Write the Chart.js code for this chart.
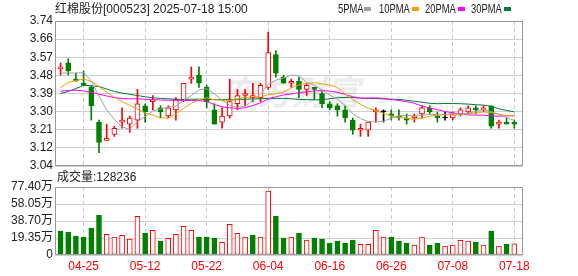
<!DOCTYPE html>
<html><head><meta charset="utf-8">
<script src="https://cdn.jsdelivr.net/npm/chart.js@4.4.1/dist/chart.umd.min.js"></script>
<style>
html,body{margin:0;padding:0;background:#fff;}
#wrap{position:relative;width:578px;height:276px;overflow:hidden;font-family:"Liberation Sans","Noto Sans CJK SC",sans-serif;color:#222;}
canvas{position:absolute;left:0;}
#c1{top:0;}
#c2{top:170px;}
.t{position:absolute;font-size:12px;line-height:14px;white-space:nowrap;}
.lg{position:absolute;top:2px;font-size:12px;line-height:14px;transform:scaleX(0.78);transform-origin:0 0;white-space:nowrap;}
.sq{position:absolute;top:7px;width:7px;height:4px;}
</style></head><body>
<div id="wrap">
<canvas id="c1" width="578" height="178"></canvas>
<canvas id="c2" width="578" height="106"></canvas>
<div class="t" style="left:55px;top:2px">红棉股份[000523] 2025-07-18 15:00</div>
<div class="t" id="voltxt" style="left:57px;top:170px"></div>
</div>
<script>
const dates = ['04-22','04-23','04-24','04-25','04-28','04-29','04-30','05-06','05-07','05-08','05-09','05-12','05-13','05-14','05-15','05-16','05-19','05-20','05-21','05-22','05-23','05-26','05-27','05-28','05-29','05-30','06-03','06-04','06-05','06-06','06-09','06-10','06-11','06-12','06-13','06-16','06-17','06-18','06-19','06-20','06-23','06-24','06-25','06-26','06-27','06-30','07-01','07-02','07-03','07-04','07-07','07-08','07-09','07-10','07-11','07-14','07-15','07-16','07-17','07-18'];
const xTickIdx = [3,11,19,27,35,43,51,59];

const open  = [3.51,3.54,3.46,3.44,3.42,3.25,3.16,3.19,3.25,3.24, 3.26,3.33,3.35,3.32,3.28,3.31,3.36,3.46,3.48,3.42, 3.31,3.25,3.28,3.34,3.38,3.37,3.37,3.42,3.58,3.47, 3.44,3.45,3.41,3.42,3.39,3.34,3.33,3.31,3.26,3.21, 3.21,3.30,3.30,3.29,3.28,3.27,3.27,3.29,3.32,3.28, 3.27,3.27,3.29,3.30,3.32,3.31,3.33,3.24,3.25,3.25];
const high  = [3.54,3.56,3.49,3.50,3.43,3.26,3.24,3.23,3.32,3.28, 3.41,3.34,3.38,3.33,3.33,3.37,3.44,3.52,3.52,3.43, 3.34,3.32,3.46,3.41,3.41,3.44,3.44,3.69,3.60,3.48, 3.46,3.47,3.44,3.42,3.40,3.35,3.34,3.33,3.27,3.24, 3.25,3.32,3.31,3.31,3.31,3.29,3.29,3.33,3.33,3.30, 3.30,3.30,3.32,3.33,3.33,3.33,3.33,3.26,3.27,3.26];
const low   = [3.48,3.48,3.45,3.43,3.26,3.10,3.16,3.18,3.22,3.20, 3.22,3.25,3.31,3.27,3.27,3.26,3.35,3.44,3.42,3.32, 3.24,3.22,3.27,3.31,3.33,3.35,3.35,3.41,3.47,3.44, 3.42,3.37,3.38,3.36,3.32,3.31,3.28,3.25,3.19,3.18, 3.18,3.25,3.25,3.26,3.26,3.24,3.25,3.27,3.29,3.25, 3.26,3.26,3.28,3.29,3.29,3.30,3.22,3.22,3.24,3.22];
const close = [3.52,3.50,3.45,3.43,3.33,3.15,3.17,3.22,3.26,3.27, 3.34,3.30,3.36,3.30,3.32,3.36,3.44,3.47,3.44,3.35, 3.24,3.28,3.35,3.38,3.39,3.38,3.43,3.59,3.49,3.44, 3.45,3.41,3.43,3.41,3.34,3.32,3.31,3.27,3.21,3.22, 3.25,3.31,3.30,3.28,3.27,3.26,3.28,3.32,3.30,3.27, 3.27,3.29,3.31,3.32,3.31,3.32,3.23,3.25,3.24,3.24];

const ma5  = [3.490,3.490,3.490,3.492,3.451,3.377,3.310,3.263,3.227,3.214, 3.252,3.277,3.305,3.314,3.324,3.328,3.357,3.379,3.407,3.413, 3.389,3.356,3.333,3.321,3.328,3.356,3.387,3.434,3.455,3.466, 3.480,3.477,3.445,3.430,3.408,3.382,3.362,3.331,3.291,3.267, 3.253,3.251,3.255,3.269,3.281,3.284,3.278,3.283,3.288,3.287, 3.288,3.291,3.289,3.293,3.302,3.312,3.301,3.288,3.272,3.258];
const ma10 = [3.419,3.444,3.454,3.461,3.449,3.424,3.396,3.372,3.350,3.332, 3.314,3.294,3.284,3.271,3.269,3.290,3.317,3.342,3.360,3.369, 3.359,3.357,3.356,3.364,3.371,3.373,3.372,3.384,3.388,3.397, 3.418,3.432,3.440,3.443,3.437,3.431,3.420,3.388,3.360,3.338, 3.317,3.307,3.293,3.280,3.274,3.268,3.264,3.269,3.279,3.284, 3.286,3.284,3.286,3.291,3.294,3.300,3.296,3.289,3.282,3.280];
const ma20 = [3.401,3.405,3.406,3.403,3.396,3.387,3.378,3.370,3.365,3.364, 3.364,3.362,3.360,3.358,3.357,3.357,3.356,3.356,3.355,3.351, 3.336,3.325,3.320,3.317,3.320,3.331,3.344,3.363,3.374,3.383, 3.388,3.394,3.398,3.403,3.404,3.402,3.396,3.386,3.374,3.367, 3.368,3.369,3.366,3.361,3.356,3.350,3.342,3.329,3.319,3.311, 3.302,3.295,3.290,3.285,3.284,3.284,3.280,3.279,3.280,3.282];
const ma30 = [3.390,3.400,3.414,3.430,3.428,3.424,3.412,3.400,3.392,3.386, 3.380,3.374,3.369,3.366,3.364,3.362,3.361,3.362,3.362,3.361, 3.360,3.360,3.360,3.361,3.362,3.363,3.364,3.366,3.366,3.366, 3.364,3.361,3.360,3.359,3.359,3.365,3.369,3.371,3.370,3.368, 3.365,3.365,3.363,3.362,3.361,3.357,3.352,3.347,3.342,3.340, 3.341,3.341,3.340,3.338,3.335,3.333,3.327,3.315,3.307,3.300];

const volume = [273000,262000,216000,205000,307000,455000,235000,205000,224000,182000, 440000,250000,281000,159000,190000,235000,326000,281000,205000,205000, 194000,144000,349000,247000,205000,228000,205000,728000,444000,194000, 205000,250000,171000,194000,182000,137000,159000,137000,171000,121000, 121000,281000,205000,205000,159000,137000,114000,205000,114000,137000, 102000,114000,167000,159000,148000,114000,273000,102000,125000,128236];
const volRise = [0,0,0,0,0,0,1,1,1,1, 1,0,1,0,1,1,1,1,0,0, 0,1,1,1,1,0,1,1,0,0, 1,0,1,0,0,0,0,0,0,1, 1,1,1,0,0,0,1,1,0,0, 1,1,1,1,0,1,0,1,0,1];

const priceTickLabels = ['3.04','3.12','3.21','3.30','3.39','3.48','3.57','3.66','3.74'];
const priceMin = 3.035, priceMax = 3.745;
const volTickLabels = ['0','19.35万','38.70万','58.05万','77.40万'];
const volMax = 774000;
const maNames = ['5PMA','10PMA','20PMA','30PMA'];
const maColors = ['#a0a0a0','#f5a000','#ff00ff','#007a3d'];

const RED = '#ff0000', GREEN = '#008000', BLACK = '#000000';
const FONT = '"Liberation Sans","Noto Sans CJK SC",sans-serif';

// legend
const wrap = document.getElementById('wrap');
const lgTextX = [338,379,425,471], lgSqX = [364,412,458,504];
maNames.forEach((n,i)=>{
  const t = document.createElement('div'); t.className='lg'; t.style.left=lgTextX[i]+'px'; t.textContent=n; wrap.appendChild(t);
  const s = document.createElement('div'); s.className='sq'; s.style.left=lgSqX[i]+'px'; s.style.background=maColors[i]; wrap.appendChild(s);
});
document.getElementById('voltxt').textContent = '成交量:' + volume[volume.length-1];

const candleColor = open.map((o,i)=> close[i]>o ? RED : (close[i]<o ? GREEN : BLACK));
const bodyFill = open.map((o,i)=> close[i]>o ? '#ffffff' : candleColor[i]);

const frame = {
  id:'frame',
  beforeDatasetsDraw(chart, args, opts){
    if(opts && opts.mark){
      const ctx = chart.ctx; ctx.save();
      ctx.font = 'bold italic 34px "Noto Sans CJK SC"';
      ctx.fillStyle = 'rgba(170,170,170,0.22)';
      ctx.textAlign='center'; ctx.textBaseline='middle';
      ctx.fillText(opts.mark, 292, 92);
      ctx.restore();
    }
  },
  afterDraw(chart){
    const {ctx, chartArea:a} = chart; ctx.save();
    ctx.strokeStyle='#999'; ctx.lineWidth=1;
    const l = Math.round(a.left)+0.5, t = Math.round(a.top)+0.5;
    const r = Math.round(a.right)-0.5, b = Math.round(a.bottom)-0.5;
    ctx.beginPath(); ctx.moveTo(l,t); ctx.lineTo(r,t); ctx.lineTo(r,b); ctx.lineTo(l,b); ctx.closePath(); ctx.stroke();
    ctx.restore();
  }
};

const xCommon = (showLabels) => ({
  type:'linear', min:-0.72, max:60.13, offset:false,
  afterBuildTicks: s => { s.ticks = xTickIdx.map(v=>({value:v})); },
  afterFit: s => { s.height = showLabels ? 21 : 0; },
  grid:{ color:'#cccccc', lineWidth:1, drawTicks:false, offset:false },
  border:{ display:false, dash:[4,3] },
  ticks:{ display:showLabels, autoSkip:false, maxRotation:0, minRotation:0, padding:4, color:RED,
          font:{family:FONT, size:12}, callback:(v)=>dates[v] }
});

const pts = arr => arr.map((v,i)=>({x:i, y:v}));
const maSets = [ma5,ma10,ma20,ma30].map((arr,k)=>({
  type:'line', label:maNames[k], data:pts(arr), borderColor:maColors[k], borderWidth:1,
  pointRadius:0, tension:0, order:-1, fill:false
}));

new Chart(document.getElementById('c1'), {
  type:'bar',
  data:{ datasets:[
    ...maSets,
    { type:'bar', label:'body', data:open.map((o,i)=>({x:i, y:[o, close[i]]})),
      backgroundColor:bodyFill, borderColor:candleColor, borderWidth:1, borderSkipped:false,
      barThickness:5, grouped:false, minBarLength:1, order:1 },
    { type:'bar', label:'wick', data:low.map((l,i)=>({x:i, y:[l, high[i]]})),
      backgroundColor:candleColor, borderWidth:0, barThickness:1, grouped:false, order:2 }
  ]},
  options:{
    responsive:false, animation:false, devicePixelRatio:1,
    layout:{ padding:{left:0, right:55, top:21, bottom:12} },
    plugins:{ legend:{display:false}, tooltip:{enabled:false}, frame:{mark:'东方财富'} },
    scales:{
      x: xCommon(false),
      y:{ type:'linear', min:priceMin, max:priceMax,
          afterBuildTicks: s => { s.ticks = priceTickLabels.map((_,k)=>({value: priceMin + k*(priceMax-priceMin)/8})); },
          afterFit: s => { s.width = 55; },
          grid:{ color:'#d0d0d0', lineWidth:1, drawTicks:false },
          border:{ display:false },
          ticks:{ autoSkip:false, padding:2, color:'#222', font:{family:FONT, size:12}, callback:(v,i)=>priceTickLabels[i] } }
    }
  },
  plugins:[frame]
});

new Chart(document.getElementById('c2'), {
  type:'bar',
  data:{ datasets:[
    { label:'vol', data:volume.map((v,i)=>({x:i, y:v})),
      backgroundColor:volRise.map(r=> r ? '#ffffff' : GREEN),
      borderColor:volRise.map(r=> r ? RED : GREEN),
      borderWidth:1, borderSkipped:false, barThickness:5 }
  ]},
  options:{
    responsive:false, animation:false, devicePixelRatio:1,
    layout:{ padding:{left:0, right:55, top:17, bottom:0} },
    plugins:{ legend:{display:false}, tooltip:{enabled:false} },
    scales:{
      x: xCommon(true),
      y:{ type:'linear', min:0, max:volMax,
          afterBuildTicks: s => { s.ticks = volTickLabels.map((_,k)=>({value: k*volMax/4})); },
          afterFit: s => { s.width = 55; },
          grid:{ color:'#d0d0d0', lineWidth:1, drawTicks:false },
          border:{ display:false },
          ticks:{ autoSkip:false, padding:2, color:'#222', font:{family:FONT, size:12}, callback:(v,i)=>volTickLabels[i] } }
    }
  },
  plugins:[frame]
});
</script>
</body></html>
